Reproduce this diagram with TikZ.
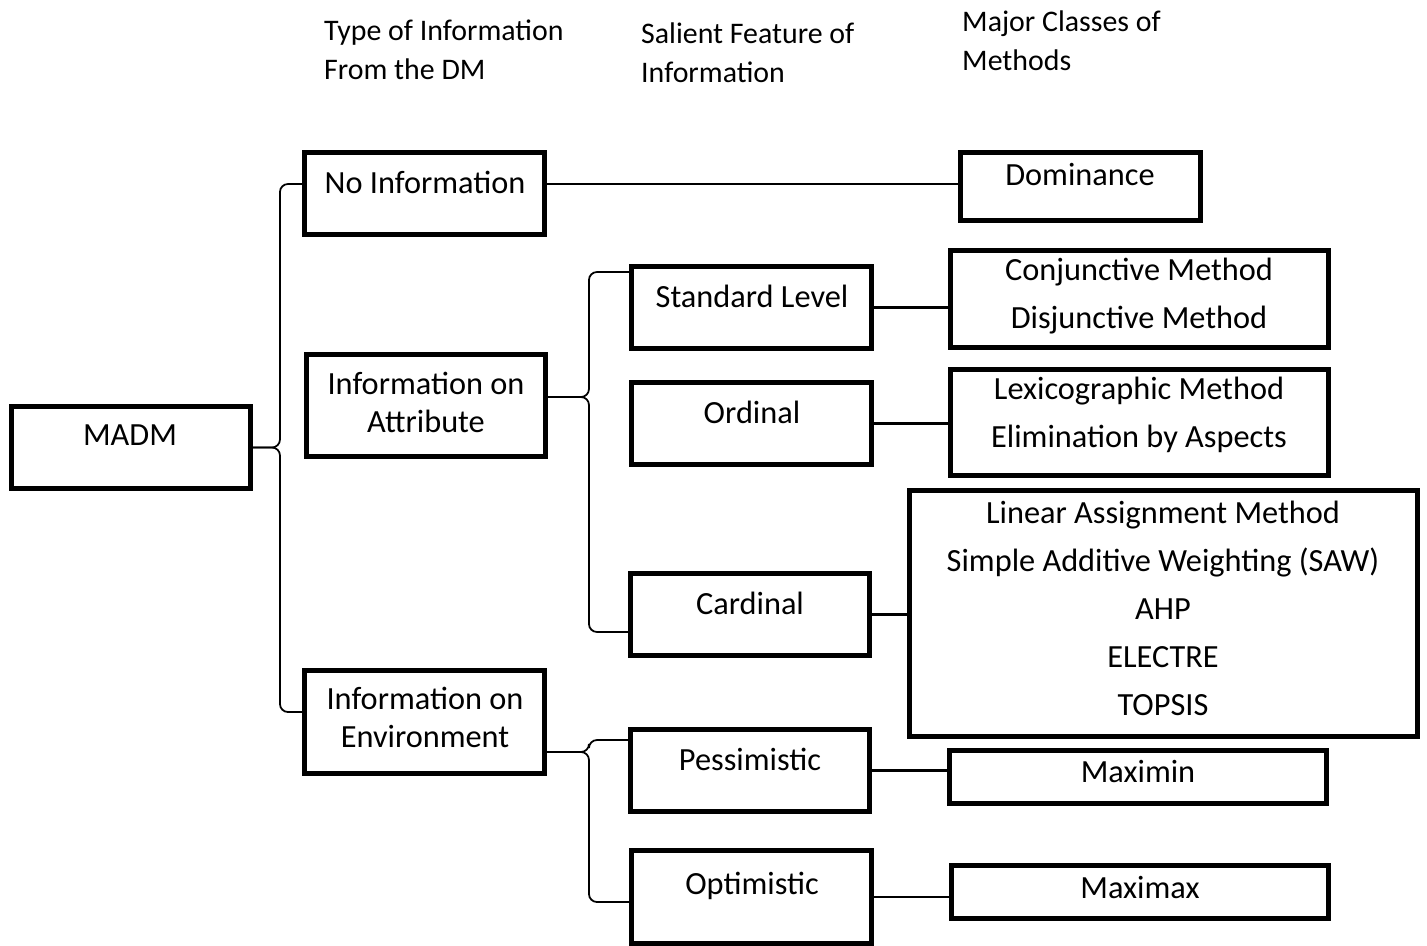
\documentclass[tikz,border=0pt]{standalone}
\usepackage{fontspec}
\setmainfont{Carlito}
\tikzset{
  box/.style={draw, line width=0.1cm, inner sep=0pt},
  txt/.style={font=\fontsize{18.4}{27.3}\selectfont, align=center},
  head/.style={font=\fontsize{17}{22}\selectfont, align=left, anchor=west},
  link/.style={line width=0.05cm},
  brace/.style={line width=0.035cm, rounded corners=0.16cm},
}
\begin{document}
\begin{tikzpicture}[x=0.02cm, y=-0.02cm]
    \useasboundingbox (0,0) rectangle (1427,946);

    % column headings
    \node[head] (h1) at (318,49.5) {Type of Information\\From the DM};
    \node[head] (h2) at (635,52.5) {Salient Feature of\\Information};
    \node[head] (h3) at (956,41) {Major Classes of\\Methods};

    % boxes
    \node[box, minimum width=4.78cm, minimum height=1.64cm] (madm) at (131,447.5) {};
    \node[box, minimum width=4.8cm, minimum height=1.64cm] (noinfo) at (424.5,193.5) {};
    \node[box, minimum width=4.78cm, minimum height=2.04cm] (attr) at (426,405.5) {};
    \node[box, minimum width=4.8cm, minimum height=2.06cm] (env) at (424.5,722) {};

    \node[box, minimum width=4.8cm, minimum height=1.64cm] (stdlvl) at (751.5,307.5) {};
    \node[box, minimum width=4.8cm, minimum height=1.64cm] (ordinal) at (751.5,423.5) {};
    \node[box, minimum width=4.78cm, minimum height=1.64cm] (cardinal) at (750,614.5) {};
    \node[box, minimum width=4.78cm, minimum height=1.64cm] (pess) at (750,770.5) {};
    \node[box, minimum width=4.8cm, minimum height=1.86cm] (opt) at (751.5,897) {};

    \node[box, minimum width=4.8cm, minimum height=1.36cm] (dom) at (1080.5,186.5) {};
    \node[box, minimum width=7.56cm, minimum height=1.94cm] (conj) at (1139.5,299) {};
    \node[box, minimum width=7.56cm, minimum height=2.12cm] (lex) at (1139.5,422.5) {};
    \node[box, minimum width=10.16cm, minimum height=4.92cm] (big) at (1163.5,613.5) {};
    \node[box, minimum width=7.54cm, minimum height=1.06cm] (maximin) at (1138,777) {};
    \node[box, minimum width=7.54cm, minimum height=1.06cm] (maximax) at (1140,892) {};

    % texts
    \node[txt] (madm-t) at (130,435) {MADM};
    \node[txt] (noinfo-t) at (425,182) {No Information};
    \node[txt, font=\fontsize{18.4}{21.6}\selectfont] (attr-t) at (426,402) {Information on\\Attribute};
    \node[txt, font=\fontsize{18.4}{21.6}\selectfont] (env-t) at (425,717) {Information on\\Environment};
    \node[txt] (stdlvl-t) at (752,296) {Standard Level};
    \node[txt] (ordinal-t) at (752,412) {Ordinal};
    \node[txt] (cardinal-t) at (750,603) {Cardinal};
    \node[txt] (pess-t) at (750,759) {Pessimistic};
    \node[txt] (opt-t) at (752,886) {Optimistic};
    \node[txt] (dom-t) at (1080,174) {Dominance};
    \node[txt] (conj-t) at (1139,296) {Conjunctive Method\\Disjunctive Method};
    \node[txt] (lex-t) at (1139,415) {Lexicographic Method\\Elimination by Aspects};
    \node[txt] (big-t) at (1163,608.5) {Linear Assignment Method\\Simple Additive Weighting (SAW)\\AHP\\ELECTRE\\TOPSIS};
    \node[txt] (maximin-t) at (1138,771) {Maximin};
    \node[txt] (maximax-t) at (1140,887) {Maximax};

    % connectors
    \draw[link] ([yshift=0.19cm]noinfo.east) -- ([yshift=0.19cm]noinfo.east -| dom.west);
    \draw[link] (stdlvl.east) -- (stdlvl.east -| conj.west);
    \draw[link] (ordinal.east) -- (ordinal.east -| lex.west);
    \draw[link] (cardinal.east) -- (cardinal.east -| big.west);
    \draw[link] (pess.east) -- (pess.east -| maximin.west);
    \draw[link] (opt.east) -- (opt.east -| maximax.west);

    % braces
    \draw[brace] (madm.east) -- ++(0.54cm,0) |- ([yshift=0.19cm]noinfo.west);
    \draw[brace] (madm.east) -- ++(0.54cm,0) |- ([yshift=0.2cm]env.west);
    \draw[brace] ([yshift=0.17cm]attr.east) -- ++(0.82cm,0) |- ([yshift=0.71cm]stdlvl.west);
    \draw[brace] ([yshift=0.17cm]attr.east) -- ++(0.82cm,0) |- ([yshift=-0.35cm]cardinal.west);
    \draw[brace] ([yshift=-0.6cm]env.east) -- ++(0.84cm,0) |- ([yshift=0.61cm]pess.west);
    \draw[brace] ([yshift=-0.6cm]env.east) -- ++(0.84cm,0) |- ([yshift=-0.1cm]opt.west);
\end{tikzpicture}
\end{document}
